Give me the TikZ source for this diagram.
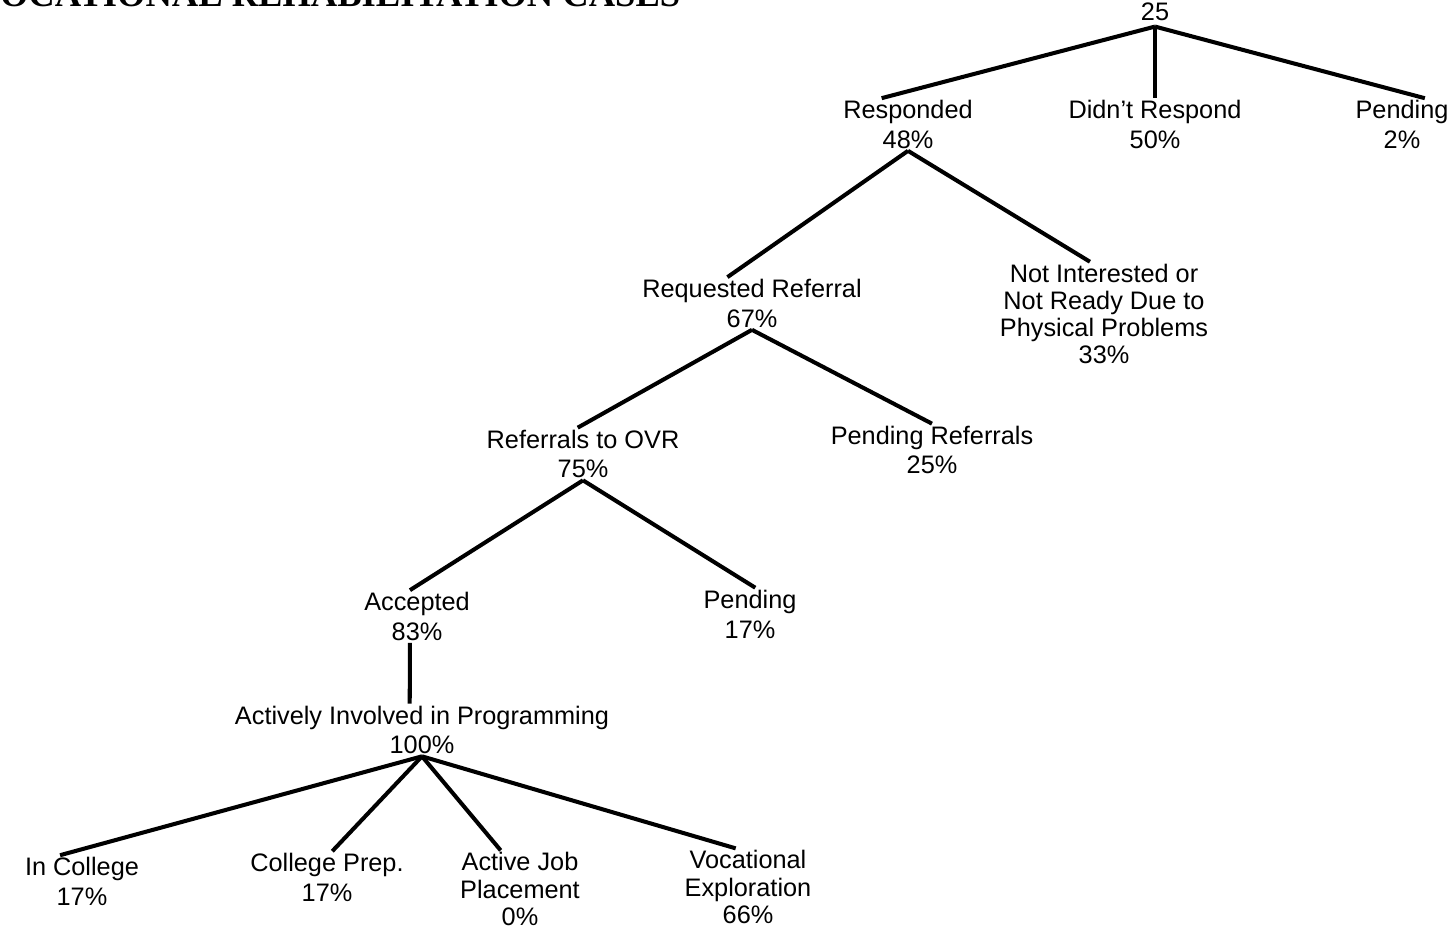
\documentclass[tikz,border=0pt]{standalone}
\usepackage{fontspec}
\setmainfont{Liberation Sans}
\newfontfamily\titlefont{Liberation Serif}
\begin{document}
\begin{tikzpicture}[x=0.02cm,y=-0.02cm,
  cat/.style={align=center,inner sep=1pt,font=\fontsize{14.4}{17}\selectfont},
  tight/.style={font=\fontsize{14.4}{15.5}\selectfont},
  branch/.style={line width=2.3pt}]
  \useasboundingbox (0,0) rectangle (1455,936);
  \clip (0,0) rectangle (1455,936);
  \node [anchor=base west,inner sep=0,
    font=\titlefont\bfseries\fontsize{20.8}{24}\selectfont]
    (title) at (-26,7) {VOCATIONAL REHABILITATION CASES};
  \node [cat] (total) at (1155,12) {25};
  \node [cat] (resp) at (908,124.5) {Responded\\48\%};
  \node [cat] (noresp) at (1155,124.5) {Didn’t Respond\\50\%};
  \node [cat] (pend) at (1402,124.5) {Pending\\2\%};
  \node [cat] (req) at (752,303.5) {Requested Referral\\67\%};
  \node [cat,tight] (notint) at (1104,314)
    {Not Interested or\\Not Ready Due to\\Physical Problems\\33\%};
  \node [cat] (ovr) at (583,454) {Referrals to OVR\\75\%};
  \node [cat] (pendref) at (932,450) {Pending Referrals\\25\%};
  \node [cat] (acc) at (417,616.5) {Accepted\\83\%};
  \node [cat] (pendovr) at (750,614) {Pending\\17\%};
  \node [cat] (active) at (422,730) {Actively Involved in Programming\\100\%};
  \node [cat] (college) at (82,881.5) {In College\\17\%};
  \node [cat] (prep) at (327,877.5) {College Prep.\\17\%};
  \node [cat,tight] (job) at (520,889) {Active Job\\Placement\\0\%};
  \node [cat,tight] (voc) at (748,887) {Vocational\\Exploration\\66\%};
  \draw [branch] ([yshift=-2pt]total.south) -- ([xshift=-15pt]resp.north);
  \draw [branch] ([yshift=-2pt]total.south) -- (noresp.north);
  \draw [branch] ([yshift=-2pt]total.south) -- ([xshift=13pt]pend.north);
  \draw [branch] (resp.south) -- ([xshift=-14pt]req.north);
  \draw [branch] (resp.south) -- ([xshift=-8pt]notint.north);
  \draw [branch] (req.south) -- ([xshift=-3pt]ovr.north);
  \draw [branch] (req.south) -- (pendref.north);
  \draw [branch] (ovr.south) -- ([xshift=-4pt]acc.north);
  \draw [branch] (ovr.south) -- ([xshift=3pt]pendovr.north);
  \draw [branch] ([xshift=-4pt]acc.south) -- ([xshift=-7pt]active.north);
  \draw [branch] (active.south) -- ([xshift=-12.5pt]college.north);
  \draw [branch] (active.south) -- ([xshift=3pt]prep.north);
  \draw [branch] (active.south) -- ([xshift=-11pt]job.north);
  \draw [branch] (active.south) -- ([xshift=-7pt]voc.north);
\end{tikzpicture}
\end{document}
